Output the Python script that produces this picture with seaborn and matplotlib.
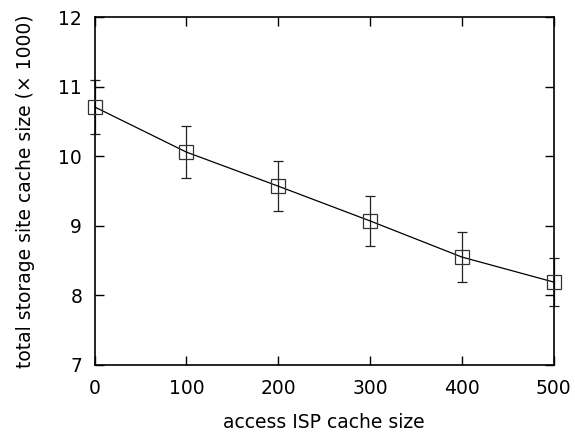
import matplotlib
matplotlib.use("Agg")
import matplotlib.pyplot as plt
import seaborn as sns
import pandas as pd

cache_size = [0, 100, 200, 300, 400, 500]
storage = [10.71, 10.06, 9.57, 9.07, 8.55, 8.19]
err = [0.39, 0.37, 0.36, 0.36, 0.36, 0.35]
xticks = [0, 100, 200, 300, 400, 500]
yticks = [7, 8, 9, 10, 11, 12]

sns.set_style("ticks")
plt.rcParams['font.family'] = ['DejaVu Sans']
plt.rcParams['text.color'] = 'black'
plt.rcParams['axes.labelcolor'] = 'black'

df = pd.DataFrame({"x": cache_size, "y": storage, "e": err})

fig = plt.figure(figsize=(5.75, 4.32), dpi=100)
ax = fig.add_axes([0.1647, 0.1558, 0.798, 0.804])

eb = ax.errorbar(df["x"], df["y"], yerr=df["e"], fmt="none", ecolor="#222222",
                 elinewidth=0.9, capsize=3.6, capthick=0.9, zorder=2)
for art in eb.lines[1]:
    art.set_clip_on(False)
for art in eb.lines[2]:
    art.set_clip_on(False)
sns.lineplot(data=df, x="x", y="y", ax=ax, color="black", linewidth=0.9,
             marker="s", markersize=9.5, markerfacecolor="none",
             markeredgecolor="#333333", markeredgewidth=0.9, zorder=3,
             clip_on=False)

ax.set_xlim(0, 500)
ax.set_ylim(7, 12)
ax.set_xticks(xticks)
ax.set_yticks(yticks)
ax.tick_params(direction="in", top=True, right=True, length=6.5, width=1,
               labelsize=13.5, colors="black")
ax.tick_params(axis="x", pad=10)
ax.tick_params(axis="y", pad=9)
for s in ax.spines.values():
    s.set_linewidth(1.2)
    s.set_color("black")
ax.set_xlabel("access ISP cache size", fontsize=13.5, labelpad=11, color="black")
ax.set_ylabel("total storage site cache size (× 1000)", fontsize=13.5,
              labelpad=17, color="black")

fig.savefig("out.png", dpi=100)
